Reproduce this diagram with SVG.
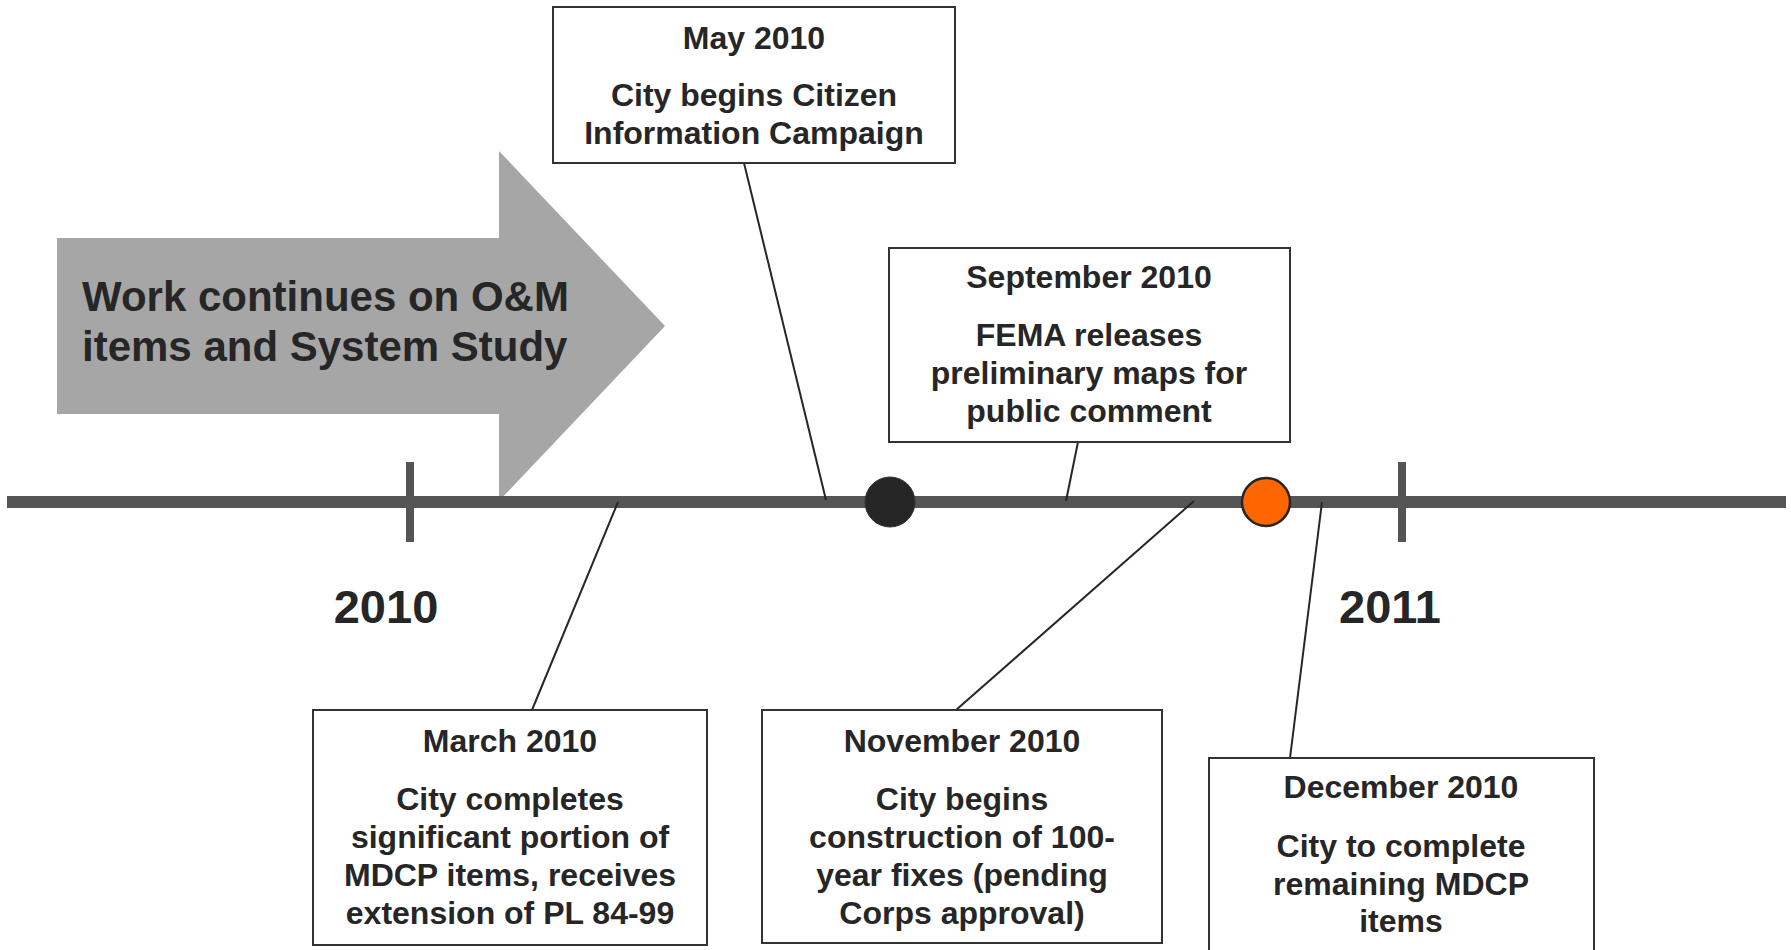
<svg xmlns="http://www.w3.org/2000/svg" width="1791" height="950" viewBox="0 0 1791 950">
<style>
.t{font-family:"Liberation Sans",Arial,sans-serif;font-weight:bold;fill:#262626;text-anchor:middle;font-size:32px}
.box{fill:#ffffff;stroke:#333333;stroke-width:2}
.con{stroke:#262626;stroke-width:2;fill:none}
.tick{stroke:#555555;stroke-width:8}
</style>
<rect width="1791" height="950" fill="#ffffff"/>
<g id="arrow">
<polygon points="57,238 499,238 499,151 665,326 499,501 499,414 57,414" fill="#a6a6a6"/>
<text class="t" style="text-anchor:start;font-size:42px" x="82" y="311">Work continues on O&amp;M</text>
<text class="t" style="text-anchor:start;font-size:42px" x="82" y="361">items and System Study</text>
</g>
<g id="timeline">
<line x1="7" y1="502" x2="1786" y2="502" stroke="#555555" stroke-width="12"/>
<line class="tick" x1="410" y1="462" x2="410" y2="542"/>
<line class="tick" x1="1402" y1="462" x2="1402" y2="542"/>
<text class="t" style="font-size:47px" x="386" y="623">2010</text>
<text class="t" style="font-size:47px" x="1390" y="623">2011</text>
</g>
<g id="connectors">
<line class="con" x1="744" y1="163" x2="826" y2="500"/>
<line class="con" x1="1078" y1="442" x2="1066" y2="501"/>
<line class="con" x1="618" y1="502" x2="532" y2="710"/>
<line class="con" x1="1194" y1="501" x2="956" y2="710"/>
<line class="con" x1="1322" y1="502" x2="1290" y2="758"/>
</g>
<g id="marker-black"><circle cx="890" cy="502" r="25" fill="#262626" stroke="#333333" stroke-width="1"/></g>
<g id="marker-orange"><circle cx="1266" cy="502" r="24" fill="#ff6600" stroke="#262626" stroke-width="2.5"/></g>
<g id="may">
<rect class="box" x="553" y="7" width="402" height="156"/>
<text class="t" x="754" y="49">May 2010</text>
<text class="t" x="754" y="106">City begins Citizen</text>
<text class="t" x="754" y="144">Information Campaign</text>
</g>
<g id="september">
<rect class="box" x="889" y="248" width="401" height="194"/>
<text class="t" x="1089" y="288">September 2010</text>
<text class="t" x="1089" y="346">FEMA releases</text>
<text class="t" x="1089" y="384">preliminary maps for</text>
<text class="t" x="1089" y="422">public comment</text>
</g>
<g id="march">
<rect class="box" x="313" y="710" width="394" height="235"/>
<text class="t" x="510" y="752">March 2010</text>
<text class="t" x="510" y="810">City completes</text>
<text class="t" x="510" y="848">significant portion of</text>
<text class="t" x="510" y="886">MDCP items, receives</text>
<text class="t" x="510" y="924">extension of PL 84-99</text>
</g>
<g id="november">
<rect class="box" x="762" y="710" width="400" height="233"/>
<text class="t" x="962" y="752">November 2010</text>
<text class="t" x="962" y="810">City begins</text>
<text class="t" x="962" y="848">construction of 100-</text>
<text class="t" x="962" y="886">year fixes (pending</text>
<text class="t" x="962" y="924">Corps approval)</text>
</g>
<g id="december">
<rect class="box" x="1209" y="758" width="385" height="210"/>
<text class="t" x="1401" y="798">December 2010</text>
<text class="t" x="1401" y="857">City to complete</text>
<text class="t" x="1401" y="895">remaining MDCP</text>
<text class="t" x="1401" y="932">items</text>
</g>
</svg>
